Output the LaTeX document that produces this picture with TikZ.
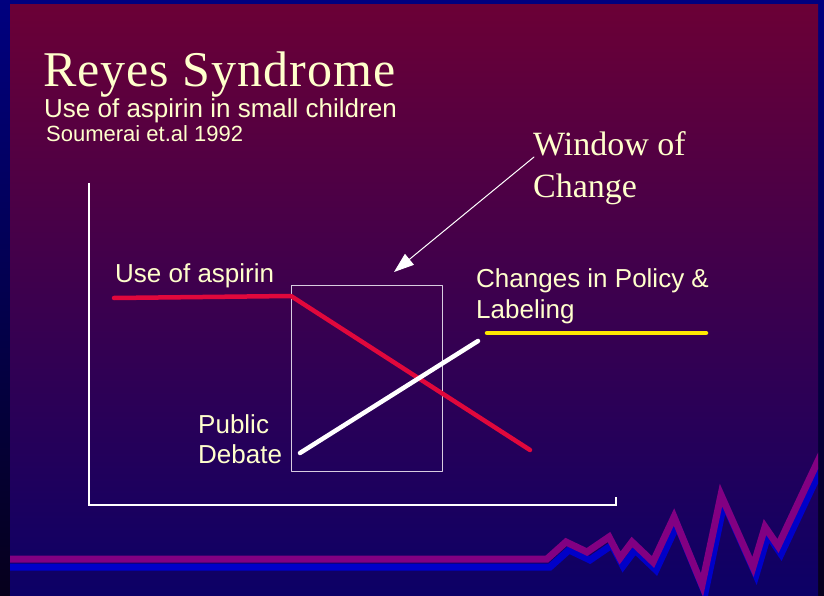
\documentclass[tikz,border=0pt]{standalone}
\usepackage{fontspec}
\setmainfont{Liberation Serif}
\setsansfont{Liberation Sans}
\usetikzlibrary{arrows.meta,calc}
\definecolor{SlideNavy}{HTML}{00007F}
\definecolor{SlideDark}{HTML}{06001C}
\definecolor{SlideMaroon}{HTML}{6B0036}
\definecolor{SlideIndigo}{HTML}{0C0066}
\definecolor{SlideCream}{HTML}{FFFFCC}
\definecolor{SlidePurple}{HTML}{820082}
\definecolor{SlideBlue}{HTML}{0000C8}
\definecolor{AspirinRed}{HTML}{E0083C}
\definecolor{PolicyYellow}{HTML}{FFE800}
\definecolor{WindowGrey}{HTML}{D8CCE0}

\begin{document}
\begin{tikzpicture}[x=1pt,y=-1pt,line cap=round,line join=round,
    slidetext/.style={text=SlideCream,inner sep=0pt,anchor=base west,align=left},
    chartlabel/.style={slidetext,font=\sffamily\fontsize{26}{31}\selectfont}]
  \useasboundingbox (0,0) rectangle (824,596);
  \shade[top color=SlideNavy,bottom color=SlideDark] (0,0) rectangle (824,596);
  \shade[top color=SlideMaroon,bottom color=SlideIndigo] (10,5) rectangle (818,595);
  \begin{scope}
    \clip (10,5) rectangle (818,595);
    \foreach \col/\dx/\dy in {SlideBlue/3/8,SlidePurple/0/0}
      \draw[\col,line width=7pt,line cap=butt,line join=miter,shift={(\dx,\dy)}]
        (0,559) -- (547,559) -- (566,542) -- (587,552) -- (609,537) -- (620,558)
        -- (632,542) -- (653,562) -- (674,517) -- (702,585) -- (721,495) -- (753,567)
        -- (765,527) -- (778,546) -- (817,463) -- (829,438);
  \end{scope}

  \node[slidetext,font=\addfontfeature{LetterSpace=2}\fontsize{50}{50}\selectfont] (title) at (43,87) {Reyes Syndrome};
  \node[slidetext,font=\sffamily\fontsize{26}{26}\selectfont] (subtitle) at (44,118) {Use of aspirin in small children};
  \node[slidetext,font=\sffamily\fontsize{22}{22}\selectfont] (source) at (46,142) {Soumerai et.al 1992};

  % axes and window
  \draw[white,line width=2pt,line cap=butt,line join=miter] (89,183) -- (89,505) -- (616,505) -- (616,497);
  \draw[WindowGrey,line width=1pt] (291,285) rectangle (442,471);

  \coordinate (aspStart) at (114,298); \coordinate (aspKnee) at (291,296); \coordinate (aspEnd) at (530,450);
  \coordinate (debStart) at (300,453); \coordinate (debEnd) at (478,341);
  \coordinate (polStart) at (487,333); \coordinate (polEnd) at (706,333);
  \draw[AspirinRed,line width=4.5pt] (aspStart) -- (aspKnee) -- (aspEnd);
  \draw[white,line width=4.5pt] (debStart) -- (debEnd);
  \draw[PolicyYellow,line width=4.5pt] (polStart) -- (polEnd);

  % two-line labels sit on the baseline of their last line
  \node[chartlabel] (aspirin) at (115,282) {Use of aspirin};
  \node[chartlabel] (policy) at (476,318) {Changes in Policy \&\\Labeling};
  \node[chartlabel,font=\sffamily\fontsize{26}{30}\selectfont] (debate) at (198,463) {Public\\Debate};

  \node[slidetext,font=\fontsize{34}{42}\selectfont] (window) at (533,197) {Window of\\Change};
  \coordinate (arrowStart) at (534,157); \coordinate (arrowTip) at (394,272);
  \draw[white,line width=1pt,-{Triangle[length=20pt,width=14pt]}] (arrowStart) -- (arrowTip);
\end{tikzpicture}
\end{document}
